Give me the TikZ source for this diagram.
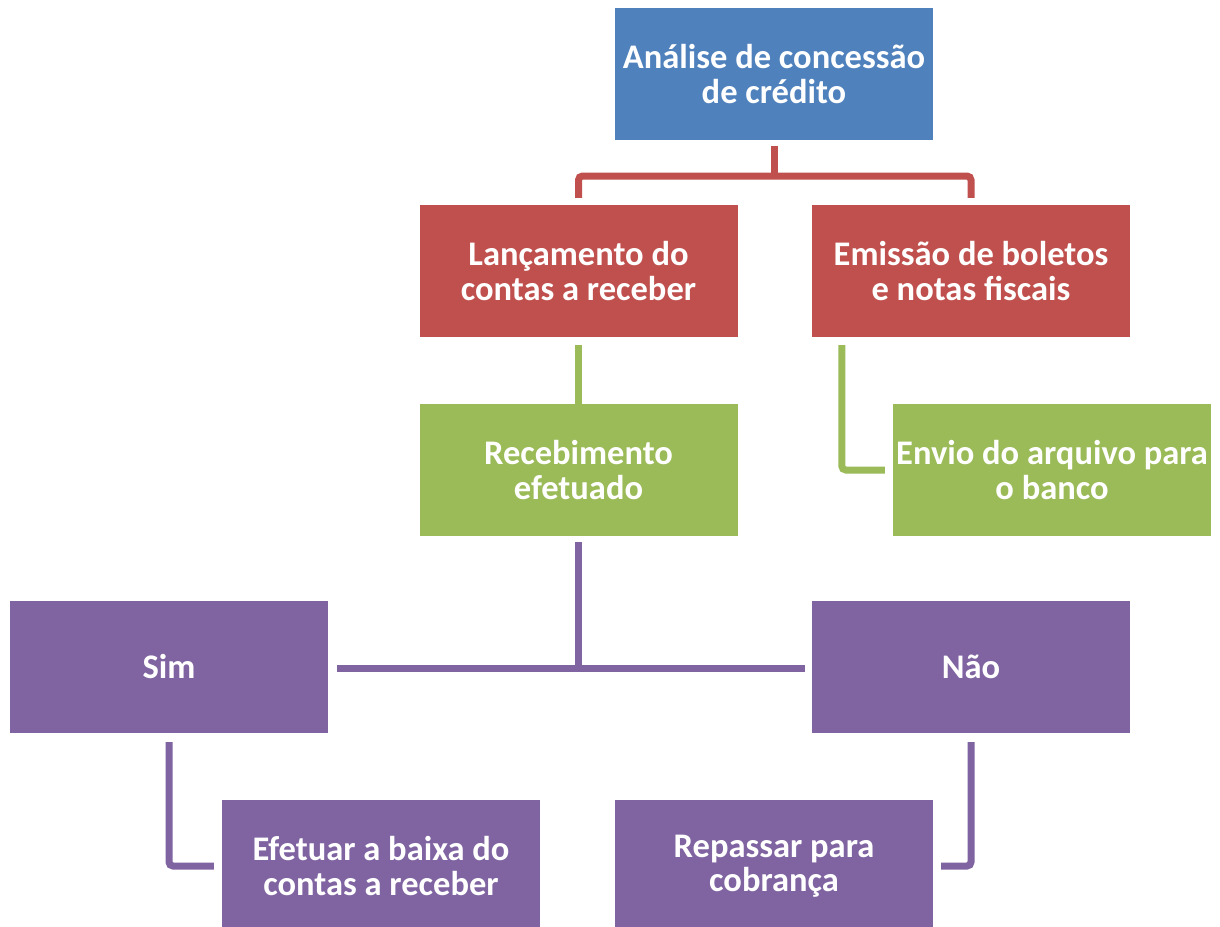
\documentclass[tikz,border=0pt]{standalone}
\usepackage{fontspec}
\setmainfont{Carlito}
\usetikzlibrary{calc}
\definecolor{cblue}{HTML}{4F81BD}
\definecolor{cred}{HTML}{C0504D}
\definecolor{cgreen}{HTML}{9BBB59}
\definecolor{cpurple}{HTML}{8064A2}
\tikzset{
  box/.style={rectangle, fill=#1, draw=none, text=white, minimum width=318pt, minimum height=132pt,
    inner sep=0pt, align=center, font=\fontsize{34.5}{34.5}\selectfont\bfseries},
  conn/.style={draw=#1, line width=7pt, rounded corners=4pt}
}
\begin{document}
\begin{tikzpicture}[x=1pt,y=-1pt]
\useasboundingbox (0,0) rectangle (1220,926);
\fill[white] (0,0) rectangle (1220,926);
\node[box=cblue] (a) at (774,74) {Análise de concessão\\de crédito};
\node[box=cred] (r1) at (578.5,271) {Lançamento do\\contas a receber};
\node[box=cred] (r2) at (971,271) {Emissão de boletos\\e notas fiscais};
\node[box=cgreen] (g1) at (578.5,470) {Recebimento\\efetuado};
\node[box=cgreen] (g2) at (1052,470) {Envio do arquivo para\\o banco};
\node[box=cpurple] (sim) at (169,667) {Sim};
\node[box=cpurple] (nao) at (971,667) {Não};
\node[box=cpurple] (ef) at (381,866) {Efetuar a baixa do\\contas a receber};
\node[box=cpurple] (rep) at (774,866) {Repassar para\\cobrança};
% red connectors
\coordinate (rj) at (774,176);
\draw[conn=cred] ($(a.south)+(0,6)$) -- (rj);
\draw[conn=cred] ($(r1.north)+(0,-7)$) |- (rj) -| ($(r2.north)+(0,-7)$);
% green connectors
\draw[conn=cgreen] ($(r1.south)+(0,8)$) -- (g1.north);
\draw[conn=cgreen] ($(r2.south west)+(30,8)$) |- ($(g2.west)+(-8,0)$);
% purple connectors
\coordinate (pj) at (578.5,668);
\draw[conn=cpurple] ($(g1.south)+(0,6)$) -- (pj);
\draw[conn=cpurple] ($(sim.east)+(9,1)$) -- ($(nao.west)+(-7,1)$);
\draw[conn=cpurple] ($(sim.south)+(0,9)$) |- ($(ef.west)+(-8,0)$);
\draw[conn=cpurple] ($(nao.south)+(0,9)$) |- ($(rep.east)+(8,0)$);
\end{tikzpicture}
\end{document}
